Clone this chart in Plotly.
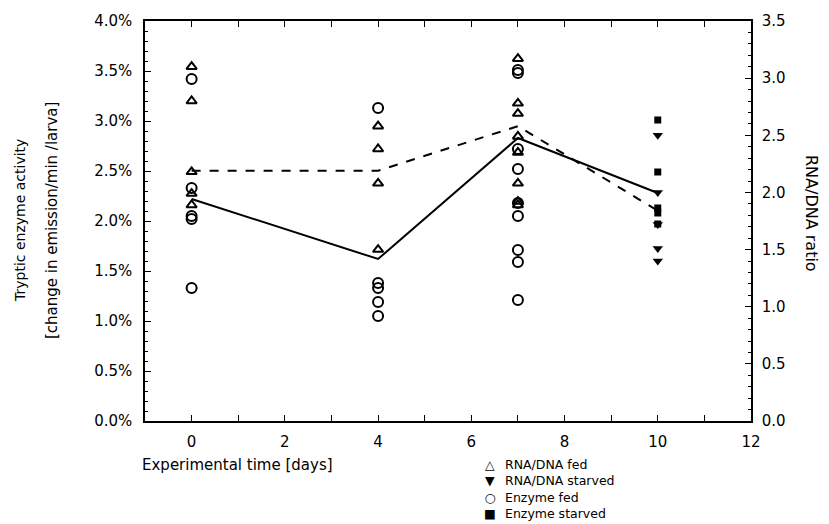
import plotly.graph_objects as go

# ---- data ----
# RNA/DNA ratio (right axis)
rna_fed_day = [0, 0, 0, 0, 0, 4, 4, 4, 4, 7, 7, 7, 7, 7, 7, 7, 7]
rna_fed_val = [3.10, 2.80, 2.18, 1.99, 1.89, 2.58, 2.38, 2.08, 1.50,
               3.17, 2.78, 2.69, 2.49, 2.35, 2.08, 1.92, 1.89]
rna_starved_day = [10, 10, 10, 10, 10]
rna_starved_val = [2.50, 2.00, 1.72, 1.51, 1.40]

# Tryptic enzyme activity in % (left axis)
enz_fed_day = [0, 0, 0, 0, 0, 4, 4, 4, 4, 4, 7, 7, 7, 7, 7, 7, 7, 7, 7]
enz_fed_val = [3.42, 2.33, 2.05, 2.02, 1.33, 3.13, 1.38, 1.33, 1.19, 1.05,
               3.51, 3.48, 2.72, 2.52, 2.18, 2.05, 1.71, 1.59, 1.21]
enz_starved_day = [10, 10, 10, 10, 10]
enz_starved_val = [3.01, 2.49, 2.13, 2.08, 1.97]

# summary lines
line_days = [0, 4, 7, 10]
enz_line = [2.22, 1.62, 2.83, 2.28]      # solid, left axis (%)
rna_line = [2.19, 2.19, 2.58, 1.84]      # dashed, right axis (ratio)

x_ticks = [0, 2, 4, 6, 8, 10, 12]

legend_names = ["RNA/DNA fed", "RNA/DNA starved", "Enzyme fed", "Enzyme starved"]
legend_glyphs = ["\u25B3", "\u25BC", "\u25CB", "\u25A0"]

FONT = "DejaVu Sans"
L, R, T, B = 145, 78, 17, 103
W, H = 829, 524
PW, PH = W - L - R, H - T - B

fig = go.Figure()

fig.add_trace(go.Scatter(x=line_days, y=enz_line, mode="lines",
                         line=dict(color="black", width=2), showlegend=False))
fig.add_trace(go.Scatter(x=line_days, y=rna_line, mode="lines", yaxis="y2",
                         line=dict(color="black", width=2, dash="dash"),
                         showlegend=False))

fig.add_trace(go.Scatter(x=rna_fed_day, y=rna_fed_val, mode="markers", yaxis="y2",
                         name=legend_names[0],
                         marker=dict(symbol="triangle-up-open", size=9, color="black",
                                     line=dict(width=2, color="black"))))
fig.add_trace(go.Scatter(x=rna_starved_day, y=rna_starved_val, mode="markers", yaxis="y2",
                         name=legend_names[1],
                         marker=dict(symbol="triangle-down", size=9, color="black")))
fig.add_trace(go.Scatter(x=enz_fed_day, y=enz_fed_val, mode="markers",
                         name=legend_names[2],
                         marker=dict(symbol="circle-open", size=10, color="black",
                                     line=dict(width=2, color="black"))))
fig.add_trace(go.Scatter(x=enz_starved_day, y=enz_starved_val, mode="markers",
                         name=legend_names[3],
                         marker=dict(symbol="square", size=7, color="black")))

axis_common = dict(showline=True, linecolor="black", linewidth=1.5, ticks="inside",
                   tickcolor="black", showgrid=False, zeroline=False,
                   tickfont=dict(family=FONT, size=15, color="black"))

fig.update_layout(
    width=W, height=H,
    margin=dict(l=L, r=R, t=T, b=B),
    paper_bgcolor="white", plot_bgcolor="white",
    font=dict(family=FONT, size=14, color="black"),
    showlegend=False,
    xaxis=dict(range=[-1, 12], tickvals=x_ticks, ticklen=6, mirror="allticks",
               minor=dict(dtick=1, ticks="inside", ticklen=3, tickcolor="black"),
               ticklabelstandoff=6, **axis_common),
    yaxis=dict(range=[0, 4], dtick=0.5, tickformat=".1f", ticksuffix="%", ticklen=6,
               minor=dict(dtick=0.1, ticks="inside", ticklen=3, tickcolor="black"),
               ticklabelstandoff=8, **axis_common),
    yaxis2=dict(range=[0, 3.5], dtick=0.5, tickformat=".1f", overlaying="y", side="right",
                ticklen=6, minor=dict(dtick=0.1, ticks="inside", ticklen=3, tickcolor="black"),
                ticklabelstandoff=6, **axis_common),
)

def px(xp):
    return (xp - L) / PW

def py(yp):
    return (H - B - yp) / PH

fig.add_annotation(text="Tryptic enzyme activity", xref="paper", yref="paper",
                   x=px(20), y=0.5, textangle=-90, showarrow=False,
                   font=dict(family=FONT, size=14), xanchor="center", yanchor="middle")
fig.add_annotation(text="[change in emission/min /larva]", xref="paper", yref="paper",
                   x=px(52), y=0.5, textangle=-90, showarrow=False,
                   font=dict(family=FONT, size=15), xanchor="center", yanchor="middle")
fig.add_annotation(text="RNA/DNA ratio", xref="paper", yref="paper",
                   x=px(812), y=0.52, textangle=90, showarrow=False,
                   font=dict(family=FONT, size=16), xanchor="center", yanchor="middle")
fig.add_annotation(text="Experimental time [days]", xref="paper", yref="paper",
                   x=px(140), y=py(465), showarrow=False,
                   font=dict(family=FONT, size=15), xanchor="left", yanchor="middle")

# legend (drawn as two text blocks under the plot)
fig.add_annotation(text="<br>".join("<b>%s</b>" % g for g in legend_glyphs),
                   xref="paper", yref="paper", x=px(490), y=py(455),
                   showarrow=False, xanchor="center", yanchor="top", align="center",
                   font=dict(family=FONT, size=12.5))
fig.add_annotation(text="<br>".join(legend_names),
                   xref="paper", yref="paper", x=px(503), y=py(455),
                   showarrow=False, xanchor="left", yanchor="top", align="left",
                   font=dict(family=FONT, size=12.5))

fig.write_html("out.html")
